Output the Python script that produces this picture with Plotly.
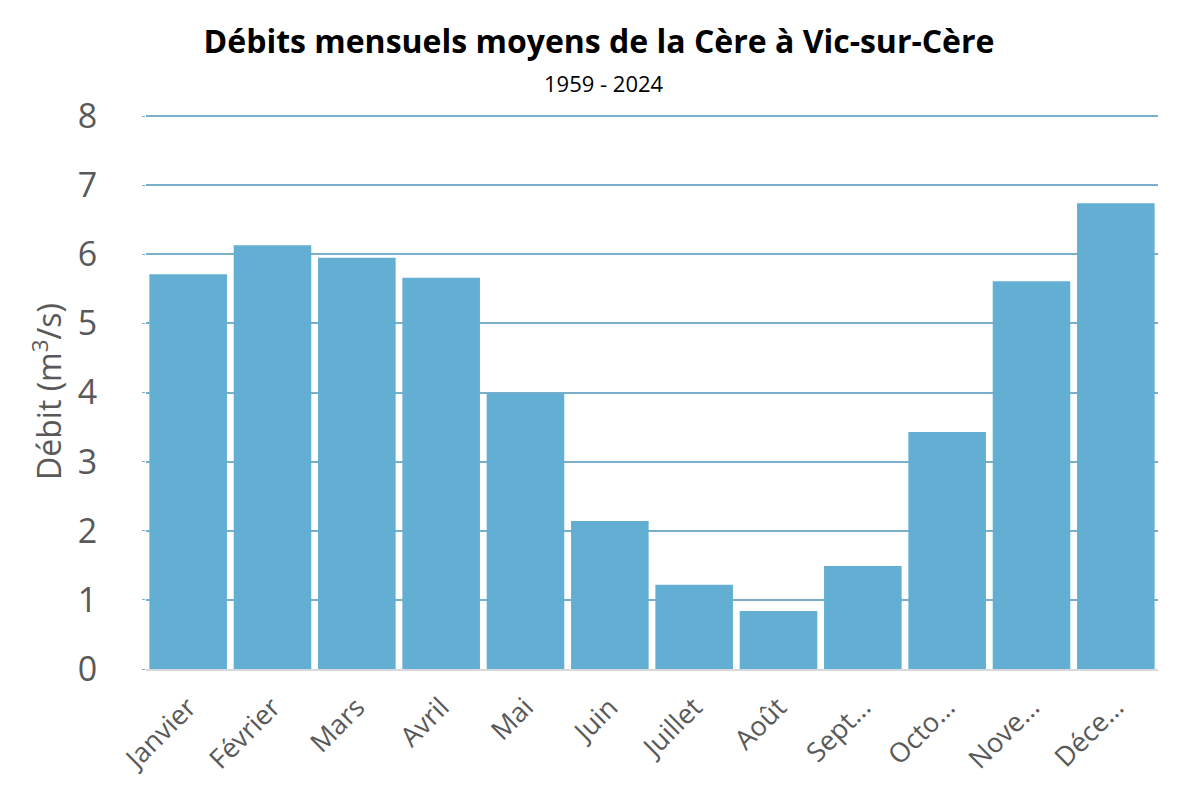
import plotly.graph_objects as go

mois = ["Janvier", "Février", "Mars", "Avril", "Mai", "Juin", "Juillet",
        "Août", "Sept…", "Octo…", "Nove…", "Déce…"]
debits = [5.71, 6.13, 5.95, 5.66, 3.99, 2.14, 1.22, 0.84, 1.49, 3.43, 5.61, 6.74]
y_ticks = [0, 1, 2, 3, 4, 5, 6, 7, 8]

font = "Open Sans"
gris = "#595959"
grille = "#7AAFC9"

fig = go.Figure(go.Bar(
    x=mois, y=debits,
    marker=dict(color="#63AFD3", line=dict(width=0)),
))

# la page a une marge de 8 px : on décale tout d'autant
fig.update_layout(
    width=1200, height=789,
    margin=dict(l=138, r=50, t=106, b=128),
    paper_bgcolor="white", plot_bgcolor="white",
    bargap=0.08,
    showlegend=False,
    font=dict(family=font, color=gris),
    title=dict(text="<b>Débits mensuels moyens de la Cère à Vic-sur-Cère</b>",
               x=0.4925, xanchor="center", y=0.957, yanchor="middle",
               font=dict(size=32, color="black", family=font)),
    annotations=[dict(text="1959 - 2024", xref="paper", yref="paper",
                      x=0.4526, y=1.056, xanchor="center",
                      yanchor="middle", showarrow=False,
                      font=dict(size=22, color="black", family=font))],
)
fig.update_yaxes(range=[0, 8.03], tickvals=y_ticks, showgrid=True,
                 gridcolor=grille, gridwidth=1.5, zeroline=False,
                 showline=False, ticks="outside", ticklen=3, tickcolor=grille,
                 ticklabelstandoff=38,
                 tickfont=dict(size=34, color=gris),
                 title=dict(text="Débit (m<sup>3</sup>/s)", standoff=6,
                            font=dict(size=32, color=gris)))
fig.update_xaxes(showline=True, linecolor="#D9D9D9", linewidth=1.5,
                 tickangle=-45, ticks="", ticklabelstandoff=10,
                 tickfont=dict(size=27, color=gris))

fig.write_html("out.html")
